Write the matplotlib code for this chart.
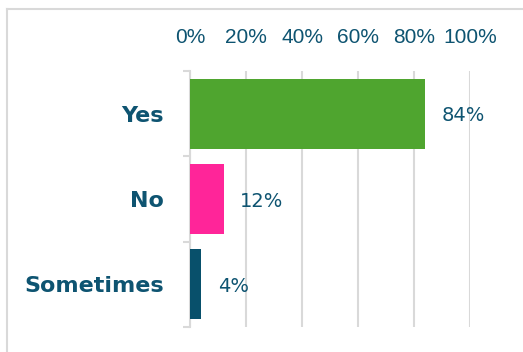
import matplotlib
matplotlib.use("Agg")
import matplotlib.pyplot as plt
from matplotlib.lines import Line2D
import numpy as np

categories = ["Yes", "No", "Sometimes"]
values = [84, 12, 4]
bar_colors = ["#4FA52F", "#FF2599", "#08506B"]
tick_vals = [0, 20, 40, 60, 80, 100]
tick_labels = ["0%", "20%", "40%", "60%", "80%", "100%"]

text_color = "#0E5471"
grid_color = "#D9D9D9"

fig = plt.figure(figsize=(5.23, 3.52), dpi=100)
fig.patch.set_facecolor("white")
# outer frame (left and top edges)
fx, fy = 6.5/523, 1 - 9/352
fig.add_artist(Line2D([fx, fx], [0, fy], transform=fig.transFigure, color="#D9D9D9", linewidth=1.5))
fig.add_artist(Line2D([fx, 1], [fy, fy], transform=fig.transFigure, color="#D9D9D9", linewidth=1.5))

ax = fig.add_axes([190/523, 1 - 327/352, 280/523, (327 - 71)/352])
y = np.arange(len(categories))
ax.barh(y, values, height=0.82, color=bar_colors, zorder=3)

ax.set_xlim(0, 100)
ax.set_ylim(len(categories) - 0.5, -0.5)

ax.set_xticks(tick_vals)
ax.set_xticklabels(tick_labels, fontsize=15, color=text_color, family="Liberation Sans")
ax.xaxis.tick_top()
ax.tick_params(axis="x", length=0, pad=17)
ax.grid(axis="x", color=grid_color, linewidth=1.5, zorder=0)

ax.set_yticks(y)
ax.set_yticklabels(categories, fontsize=16, fontweight="bold", color=text_color, family="DejaVu Sans")
ax.tick_params(axis="y", which="major", length=0, pad=19)
ax.set_yticks(np.arange(len(categories) + 1) - 0.5, minor=True)
ax.tick_params(axis="y", which="minor", length=5, width=1.5, color=grid_color)

for s in ["top", "right", "bottom"]:
    ax.spines[s].set_visible(False)
ax.spines["left"].set_color(grid_color)
ax.spines["left"].set_linewidth(1.5)

for yi, v in zip(y, values):
    ax.annotate(f"{v}%", xy=(v, yi), xytext=(12, -1.5), textcoords="offset points",
                va="center", ha="left", fontsize=14, color=text_color)

fig.savefig("out.png", dpi=100, facecolor="white")
